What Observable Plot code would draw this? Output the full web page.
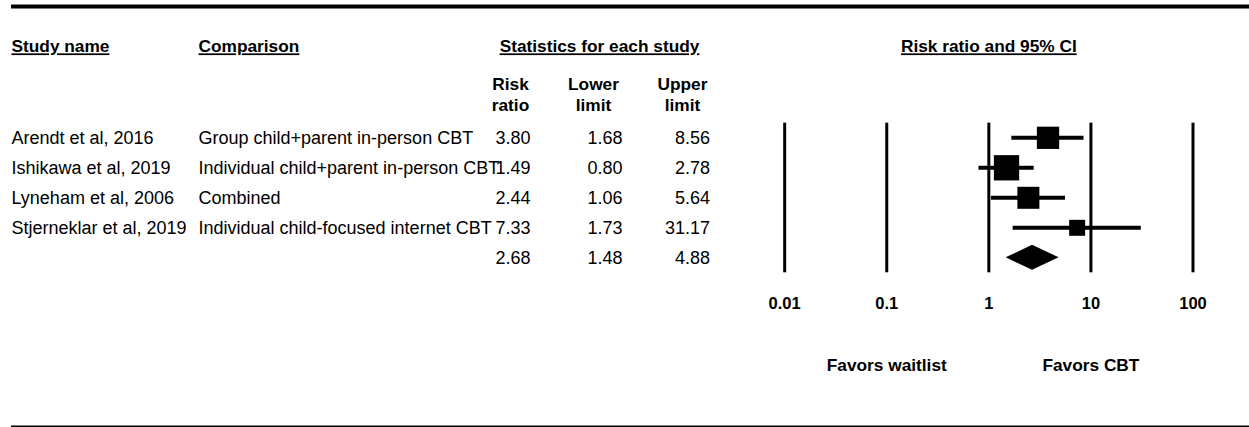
<!DOCTYPE html>
<html>
<head>
<meta charset="utf-8">
<script src="https://cdn.jsdelivr.net/npm/d3@7"></script>
<script src="https://cdn.jsdelivr.net/npm/@observablehq/plot@0.6"></script>
<style>
  html, body { margin: 0; padding: 0; background: #fff; }
  #forest { display: flex; width: 1249px; height: 427px; overflow: hidden; }
  #forest svg { display: block; }
</style>
</head>
<body>
<div id="forest"></div>
<script>
// Study-level data (risk ratios with 95% CI)
const studies = ["Arendt et al, 2016", "Ishikawa et al, 2019", "Lyneham et al, 2006", "Stjerneklar et al, 2019"];
const comparisons = ["Group child+parent in-person CBT", "Individual child+parent in-person CBT", "Combined", "Individual child-focused internet CBT"];
const riskRatio = [3.80, 1.49, 2.44, 7.33];
const lowerLimit = [1.68, 0.80, 1.06, 1.73];
const upperLimit = [8.56, 2.78, 5.64, 31.17];
const relativeWeight = [26.5, 34.1, 25.8, 13.6];

// Pooled estimate
const pooledRiskRatio = 2.68;
const pooledLower = 1.48;
const pooledUpper = 4.88;

// Axis ticks and labels
const tickValues = [0.01, 0.1, 1, 10, 100];
const tickLabels = ["0.01", "0.1", "1", "10", "100"];
const favorLabels = ["Favors waitlist", "Favors CBT"];
const favorAt = [0.1, 10];

// Column headers
const columnHeaders = ["Study name", "Comparison", "Statistics for each study"];
const statHeaders = ["Risk\nratio", "Lower\nlimit", "Upper\nlimit"];
const plotHeader = "Risk ratio and 95% CI";

// ---- layout ----
const FONT = "'Liberation Sans', Arial, Helvetica, sans-serif";
const H = 427, LEFT_W = 740, RIGHT_W = 509;
const regular = 18, bold = 17.3, tickSize = 16.5;
// vertical positions are expressed in row units (row i sits at y = i)
const Y = {top: -4.377, header: -3.033, sub: -1.473, ruleTop: -0.487, ruleBottom: 4.5, tick: 5.527, favors: 7.58, bottom: 9.613};
const yScale = {domain: [0, 4], range: [137.3, 257.3], axis: null};
const svgStyle = {fontFamily: FONT, background: "transparent", overflow: "visible"};

const rows = studies.map((s, i) => ({
  i, study: s, comparison: comparisons[i],
  rr: riskRatio[i], lo: lowerLimit[i], hi: upperLimit[i], w: relativeWeight[i]
}));
const pooledRow = {i: studies.length, rr: pooledRiskRatio, lo: pooledLower, hi: pooledUpper};
const fmt = d3.format(".2f");
const statRows = [...rows, pooledRow];

// column anchors of the table (pixels)
const col = {study: 11, comparison: 198, rr: 530, lo: 622, hi: 709.5, rrHead: 510, loHead: 593, hiHead: 682, stats: 599};

const table = Plot.plot({
  width: LEFT_W, height: H,
  margin: 0,
  style: svgStyle,
  x: {type: "identity", axis: null},
  y: yScale,
  marks: [
    Plot.ruleY([Y.top], {x1: col.study, x2: LEFT_W, strokeWidth: 4, stroke: "#000"}),
    Plot.ruleY([Y.bottom], {x1: col.study, x2: LEFT_W, strokeWidth: 1.5, stroke: "#000"}),
    // headers
    Plot.text([columnHeaders[0]], {x: col.study, y: Y.header, text: d => d, textAnchor: "start", fontWeight: "bold", fontSize: bold, fill: "#000"}),
    Plot.text([columnHeaders[1]], {x: col.comparison, y: Y.header, text: d => d, textAnchor: "start", fontWeight: "bold", fontSize: bold, fill: "#000"}),
    Plot.text([columnHeaders[2]], {x: col.stats, y: Y.header, text: d => d, fontWeight: "bold", fontSize: bold, fill: "#000"}),
    Plot.text(statHeaders, {x: (d, i) => [col.rrHead, col.loHead, col.hiHead][i], y: Y.sub, text: d => d, fontWeight: "bold", fontSize: bold, lineHeight: 1.2, fill: "#000"}),
    // study rows
    Plot.text(rows, {x: col.study, y: "i", text: "study", textAnchor: "start", fontSize: regular, dy: 0.6, fill: "#000"}),
    Plot.text(rows, {x: col.comparison, y: "i", text: "comparison", textAnchor: "start", fontSize: regular, dy: 0.6, fill: "#000"}),
    Plot.text(statRows, {x: col.rr, y: "i", text: d => fmt(d.rr), textAnchor: "end", fontSize: regular, dy: 0.6, fill: "#000"}),
    Plot.text(statRows, {x: col.lo, y: "i", text: d => fmt(d.lo), textAnchor: "end", fontSize: regular, dy: 0.6, fill: "#000"}),
    Plot.text(statRows, {x: col.hi, y: "i", text: d => fmt(d.hi), textAnchor: "end", fontSize: regular, dy: 0.6, fill: "#000"})
  ]
});

// diamond for the pooled estimate: widest at the CI, pointed at the estimate
const halfH = 0.4167;
const diamond = [
  {y: pooledRow.i - halfH, x1: pooledRow.rr, x2: pooledRow.rr},
  {y: pooledRow.i, x1: pooledRow.lo, x2: pooledRow.hi},
  {y: pooledRow.i + halfH, x1: pooledRow.rr, x2: pooledRow.rr}
];

const forest = Plot.plot({
  width: RIGHT_W, height: H,
  margin: 0,
  style: svgStyle,
  x: {type: "log", domain: [0.01, 100], range: [44.17, 452.5], axis: null},
  y: yScale,
  r: {domain: [0, d3.max(relativeWeight)], range: [0, 14.27]},
  marks: [
    Plot.ruleY([Y.top], {strokeWidth: 4, stroke: "#000"}),
    Plot.ruleY([Y.bottom], {strokeWidth: 1.5, stroke: "#000"}),
    Plot.text([plotHeader], {x: 1, y: Y.header, text: d => d, fontWeight: "bold", fontSize: bold, fill: "#000"}),
    Plot.ruleX(tickValues, {x: d => d, y1: Y.ruleTop, y2: Y.ruleBottom, strokeWidth: 3, stroke: "#000"}),
    Plot.ruleY(rows, {y: "i", x1: "lo", x2: "hi", strokeWidth: 4, stroke: "#000"}),
    Plot.dot(rows, {x: "rr", y: "i", r: "w", symbol: "square", fill: "#000", stroke: null}),
    Plot.areaX(diamond, {y: "y", x1: "x1", x2: "x2", fill: "#000"}),
    Plot.text(tickValues, {x: d => d, y: Y.tick, text: (d, i) => tickLabels[i], fontWeight: "bold", fontSize: tickSize, fill: "#000"}),
    Plot.text(favorLabels, {x: (d, i) => favorAt[i], y: Y.favors, text: d => d, fontWeight: "bold", fontSize: bold, fill: "#000"})
  ]
});

// underline the column headers
const underlined = new Set([...columnHeaders, plotHeader]);
for (const svg of [table, forest]) {
  d3.select(svg).selectAll("text")
    .filter(function () { return underlined.has(this.textContent); })
    .style("text-decoration", "underline");
}

const host = document.getElementById("forest");
host.append(table, forest);
</script>
</body>
</html>
